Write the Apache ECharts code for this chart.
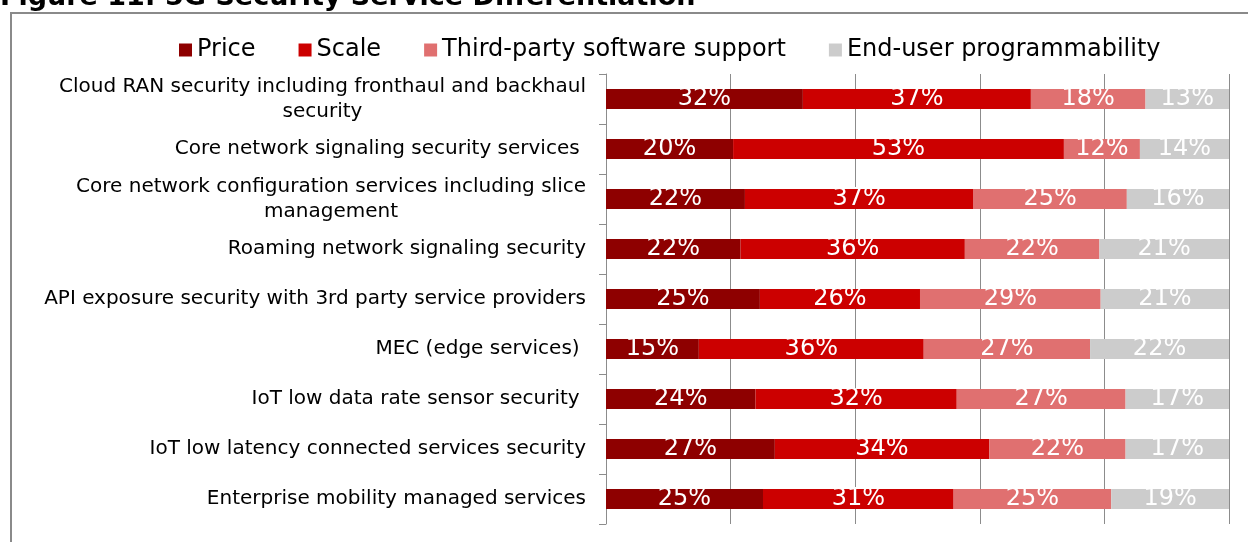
<!DOCTYPE html>
<html>
<head>
<meta charset="utf-8">
<script src="https://cdn.jsdelivr.net/npm/echarts@6/dist/echarts.min.js"></script>
<style>
  html, body { margin: 0; padding: 0; background: #fff; }
  #chart { width: 1248px; height: 542px; }
</style>
</head>
<body>
<div id="chart"></div>
<script>
// Survey categories, top to bottom
const categories = [
  'Cloud RAN security including fronthaul and backhaul\nsecurity',
  'Core network signaling security services ',
  'Core network configuration services including slice\nmanagement',
  'Roaming network signaling security',
  'API exposure security with 3rd party service providers',
  'MEC (edge services) ',
  'IoT low data rate sensor security ',
  'IoT low latency connected services security',
  'Enterprise mobility managed services'
];

// Share of respondents (%) per differentiator
const price      = [31.6, 20.4, 22.3, 21.6, 24.7, 14.9, 24.0, 27.1, 25.2];
const scale      = [36.6, 53.1, 36.7, 36.0, 25.7, 36.1, 32.3, 34.4, 30.6];
const thirdParty = [18.4, 12.2, 24.6, 21.6, 29.0, 26.7, 27.1, 21.9, 25.3];
const endUser    = [13.4, 14.3, 16.4, 20.8, 20.6, 22.3, 16.6, 16.6, 18.9];

const seriesNames = ['Price', 'Scale', 'Third-party software support', 'End-user programmability'];
const colors = ['#8e0000', '#cc0000', '#e07070', '#cccccc'];
const xTicks = { min: 0, max: 100, interval: 20 };

const FONT = '"DejaVu Sans", Verdana, sans-serif';

const chart = echarts.init(document.getElementById('chart'), null, { renderer: 'canvas' });

const makeSeries = (name, data, color) => ({
  name,
  type: 'bar',
  stack: 'total',
  data,
  barWidth: 20,
  itemStyle: { color },
  emphasis: { disabled: true },
  label: {
    show: true,
    position: 'inside',
    color: '#ffffff',
    fontFamily: FONT,
    fontSize: 24,
    formatter: p => Math.round(p.value) + '%'
  }
});

chart.setOption({
  animation: false,
  backgroundColor: '#ffffff',
  color: colors,
  graphic: [
    {
      type: 'rect',
      shape: { x: 11, y: 13, width: 1260, height: 560 },
      style: { fill: 'none', stroke: '#8a8a8a', lineWidth: 2 },
      silent: true, z: 0
    },
    {
      type: 'text',
      x: 0, y: 11,
      style: {
        text: 'Figure 11: 5G Security Service Differentiation',
        font: 'bold 27px "DejaVu Sans", Verdana, sans-serif',
        fill: '#000000',
        verticalAlign: 'bottom'
      },
      silent: true
    }
  ],
  legend: {
    top: 33,
    left: 174,
    itemWidth: 13,
    itemHeight: 13,
    itemGap: 43,
    icon: 'rect',
    textStyle: { fontFamily: FONT, fontSize: 24, color: '#000' },
    data: seriesNames
  },
  grid: { left: 606, right: 19, top: 74, bottom: 18, containLabel: false },
  xAxis: {
    type: 'value',
    min: xTicks.min, max: xTicks.max, interval: xTicks.interval,
    axisLabel: { show: false },
    axisLine: { show: false },
    axisTick: { show: false },
    splitLine: { show: true, lineStyle: { color: '#8c8c8c', width: 1 } }
  },
  yAxis: {
    type: 'category',
    inverse: true,
    data: categories,
    axisLine: { show: true, lineStyle: { color: '#8c8c8c', width: 1 } },
    axisTick: { show: true, length: 7, lineStyle: { color: '#8c8c8c' } },
    axisLabel: {
      margin: 20,
      color: '#000',
      fontFamily: FONT,
      fontSize: 20,
      lineHeight: 25,
      formatter: v => v.split('\n').map(s => '{c|' + s + '}').join('\n'),
      rich: { c: { align: 'center', fontFamily: FONT, fontSize: 20, color: '#000', lineHeight: 25 } }
    }
  },
  series: [
    makeSeries(seriesNames[0], price, colors[0]),
    makeSeries(seriesNames[1], scale, colors[1]),
    makeSeries(seriesNames[2], thirdParty, colors[2]),
    makeSeries(seriesNames[3], endUser, colors[3])
  ]
});
</script>
</body>
</html>
